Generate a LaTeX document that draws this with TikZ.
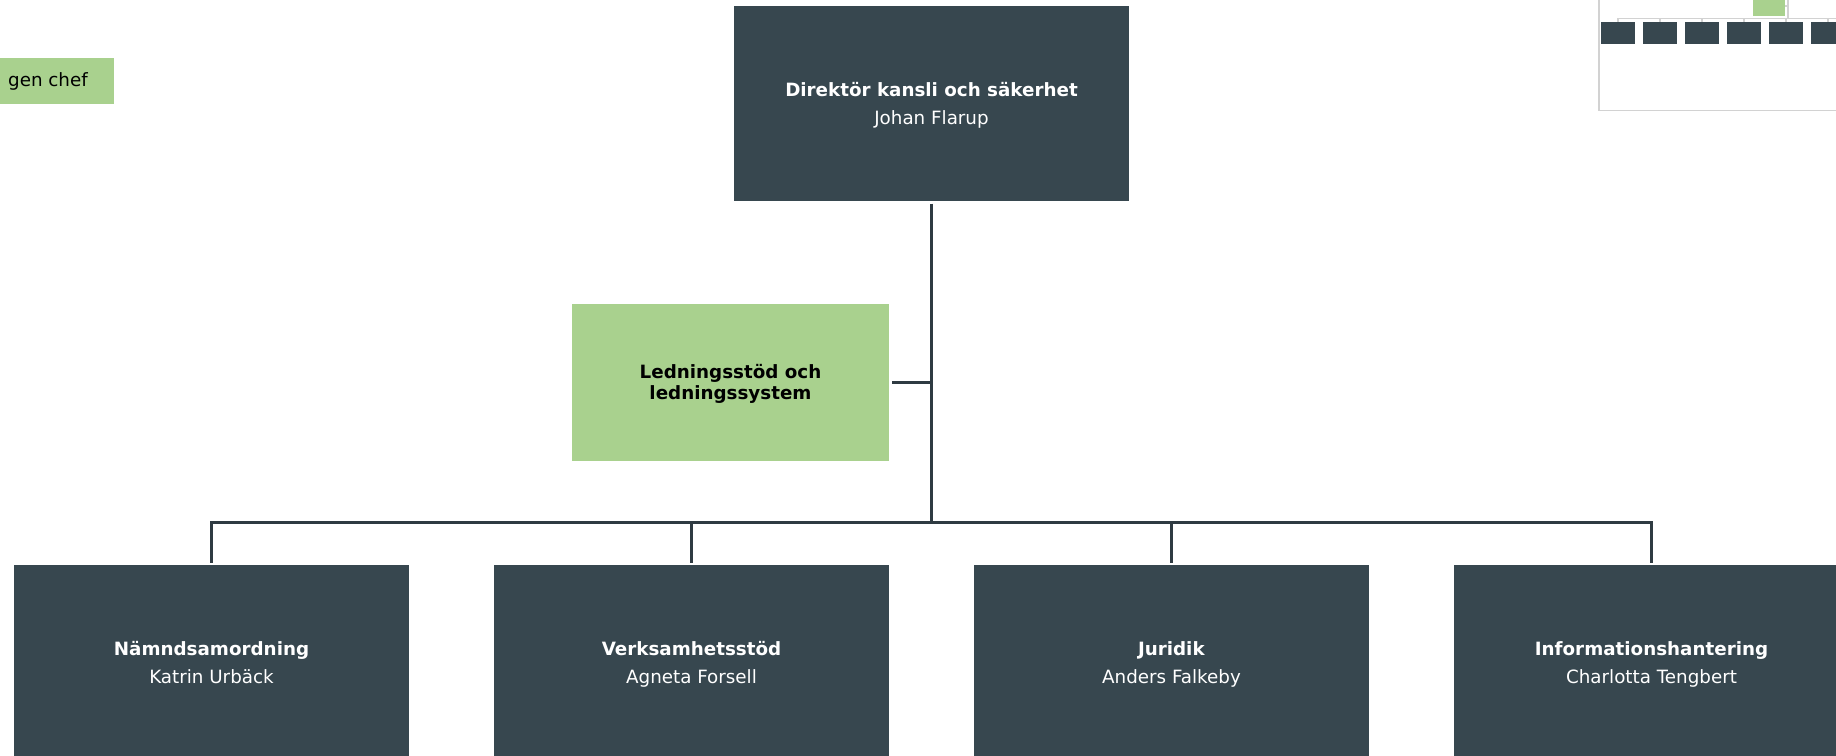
\documentclass[tikz,border=0pt]{standalone}
\usepackage{fontspec}
\setmainfont{DejaVu Sans}
\usetikzlibrary{calc}
\definecolor{slate}{HTML}{37474F}
\definecolor{leaf}{HTML}{A9D18E}
\definecolor{rule}{HTML}{2F3B42}
\definecolor{thumb}{HTML}{D2D2D2}
\newcommand\unittop{\rule{0pt}{18.4pt}}
\newcommand\unitbot{\rule[-4.4pt]{0pt}{4.4pt}}

\begin{document}
\begin{tikzpicture}[x=1pt,y=-1pt,
    unit/.style={fill=slate,text=white,minimum width=395pt,minimum height=195pt,
      inner sep=0pt,outer sep=2.5pt,align=center,font=\fontsize{18.3}{22}\selectfont},
    staff/.style={fill=leaf,text=black,minimum width=317pt,minimum height=157pt,
      inner sep=0pt,outer sep=3pt,align=center,font=\fontsize{18.3}{21.5}\selectfont\bfseries},
    link/.style={draw=rule,line width=3pt},
    mini/.style={fill=slate,minimum width=34pt,minimum height=22pt,inner sep=0pt,outer sep=0.5pt},
    minilink/.style={draw=thumb,line width=1.2pt}]
       \clip (0,0) rectangle (1836,755);
       % legend
       \node[fill=leaf,anchor=east,minimum height=46pt,inner xsep=26pt,
         font=\fontsize{18.3}{22}\selectfont] (legend) at (114,81) {gen chef};
       % chart
       \node[unit] (top) at (931.5,103.5) {\unittop\textbf{Direktör kansli och säkerhet}\\[6pt]Johan Flarup\unitbot};
       \node[staff] (staff) at (730.5,382.5) {\rule{0pt}{17pt}Ledningsstöd och\\ledningssystem};
       \node[unit] (u1) at ( 211.5,662.5) {\unittop\textbf{Nämndsamordning}\\[6pt]Katrin Urbäck\unitbot};
       \node[unit] (u2) at ( 691.5,662.5) {\unittop\textbf{Verksamhetsstöd}\\[6pt]Agneta Forsell\unitbot};
       \node[unit] (u3) at (1171.5,662.5) {\unittop\textbf{Juridik}\\[6pt]Anders Falkeby\unitbot};
       \node[unit] (u4) at (1651.5,662.5) {\unittop\textbf{Informationshantering}\\[6pt]Charlotta Tengbert\unitbot};
       \coordinate (bus) at (931.5,522);
       \draw[link] (top.south) -- (bus);
       \draw[link] (staff.east) -- (staff.east -| top.south);
       \draw[link] (u1.north) -- (u1.north |- bus) -- (u4.north |- bus) -- (u4.north);
       \foreach \u in {u2,u3}
        \draw[link] (\u.north |- bus) -- (\u.north);
       % thumbnail
       \draw[minilink] (1599,-5) rectangle (1860,110.7);
       \node[fill=leaf,minimum width=32pt,minimum height=20pt,inner sep=0pt] (mstaff) at (1769,6) {};
       \foreach \i/\x in {1/1618,2/1660,3/1702,4/1744,5/1786,6/1828}
        \node[mini] (m\i) at (\x,33.3) {};
       \coordinate (mtop) at (1788,-5);
       \coordinate (mbus) at (1788,18.3);
       \coordinate (mend) at (1840,18.3);
       \draw[minilink] (mtop) -- (mbus);
       \draw[minilink] (mstaff.east) -- (mstaff.east -| mbus);
       \draw[minilink] (m1.north) |- (mend);
       \foreach \i in {2,...,6}
        \draw[minilink] (m\i.north |- mbus) -- (m\i.north);
      \end{tikzpicture}
\end{document}
